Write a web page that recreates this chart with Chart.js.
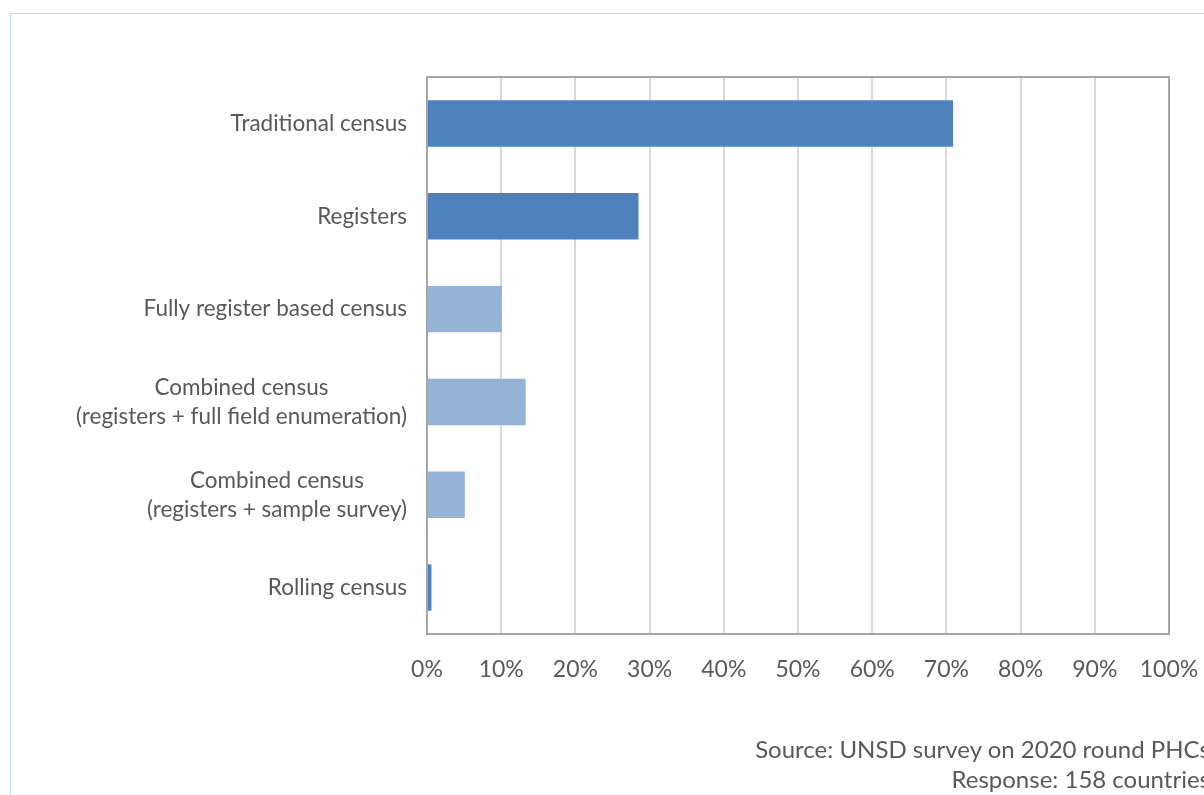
<!DOCTYPE html>
<html>
<head>
<meta charset="utf-8">
<script src="https://cdn.jsdelivr.net/npm/chart.js@4"></script>
<style>
  html, body { margin: 0; padding: 0; background: #fff; overflow: hidden; }
  #wrap { position: relative; width: 1204px; height: 795px; }
  #frame { position: absolute; left: 10px; top: 13px; width: 1300px; height: 900px; border: 1px solid #bdd7ee; }
  #chart { position: absolute; left: 0; top: 0; }
  .note { position: absolute; right: -6px; font: 24px Lato, sans-serif; color: #595959; text-align: right; white-space: nowrap; line-height: 30px; }
</style>
</head>
<body>
<div id="wrap">
  <div id="frame"></div>
  <canvas id="chart" width="1204" height="795"></canvas>
  <div class="note" style="top:734px">Source: UNSD survey on 2020 round PHCs</div>
  <div class="note" style="top:764px">Response: 158 countries</div>
</div>
<script>
// categories (top to bottom) and shares of responding countries, in %
const categories = [
  ['Traditional census'],
  ['Registers'],
  ['Fully register based census'],
  ['Combined census', '(registers + full field enumeration)'],
  ['Combined census', '(registers + sample survey)'],
  ['Rolling census']
];
const shares = [70.9, 28.5, 10.1, 13.3, 5.1, 0.6];
const barColors = ['#4f81bd', '#4f81bd', '#95b3d7', '#95b3d7', '#95b3d7', '#4f81bd'];
const tickValues = [0, 10, 20, 30, 40, 50, 60, 70, 80, 90, 100];

const FONT = 'Lato, sans-serif';
const TEXT = '#595959';

// draws the multi-line category labels (block right-aligned, lines centred) and the plot box
const labelsAndBox = {
  id: 'labelsAndBox',
  afterDraw(chart) {
    const ctx = chart.ctx;
    const y = chart.scales.y;
    const a = chart.chartArea;
    ctx.save();
    ctx.font = '22.5px ' + FONT;
    ctx.fillStyle = TEXT;
    ctx.textAlign = 'center';
    ctx.textBaseline = 'middle';
    const right = a.left - 20;
    const lineH = 29;
    categories.forEach((lines, i) => {
      const cy = y.getPixelForTick(i);
      const w = Math.max(...lines.map(l => ctx.measureText(l).width));
      const cx = right - w / 2;
      lines.forEach((l, j) => {
        ctx.fillText(l, cx, cy + (j - (lines.length - 1) / 2) * lineH);
      });
    });
    ctx.strokeStyle = '#a6a6a6';
    ctx.lineWidth = 2;
    ctx.strokeRect(a.left, a.top, a.right - a.left, a.bottom - a.top);
    ctx.restore();
  }
};

new Chart(document.getElementById('chart'), {
  type: 'bar',
  data: {
    labels: categories,
    datasets: [{
      data: shares,
      backgroundColor: barColors,
      borderWidth: 0,
      barPercentage: 0.5,
      categoryPercentage: 1.0
    }]
  },
  options: {
    indexAxis: 'y',
    responsive: false,
    animation: false,
    events: [],
    layout: { padding: { top: 77, right: 35, left: 0, bottom: 0 } },
    plugins: { legend: { display: false }, tooltip: { enabled: false } },
    scales: {
      x: {
        min: 0,
        max: 100,
        afterBuildTicks(scale) { scale.ticks = tickValues.map(v => ({ value: v })); },
        afterFit(scale) {
          scale.height = 795 - 634;
          scale.paddingLeft = 0;
          scale.paddingRight = 0;
        },
        grid: { color: '#d9d9d9', lineWidth: 2, drawTicks: false },
        border: { display: false },
        ticks: {
          callback: v => v + '%',
          color: TEXT,
          font: { family: FONT, size: 23 },
          padding: 22,
          maxRotation: 0
        }
      },
      y: {
        afterFit(scale) { scale.width = 427; },
        grid: { display: false, drawTicks: false },
        border: { display: false },
        ticks: { display: false }
      }
    }
  },
  plugins: [labelsAndBox]
});
</script>
</body>
</html>
